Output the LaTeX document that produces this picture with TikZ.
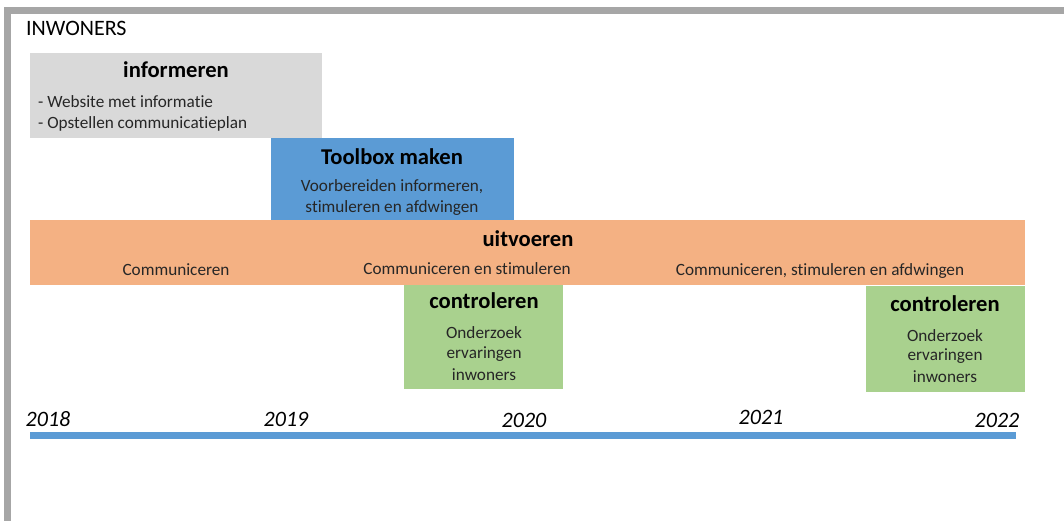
\documentclass[tikz,border=0pt]{standalone}
\usepackage{fontspec}
\setmainfont{Carlito}[Ligatures=NoCommon]
\definecolor{framegray}{HTML}{A6A6A6}
\definecolor{infogray}{HTML}{D9D9D9}
\definecolor{toolblue}{HTML}{5B9BD5}
\definecolor{uitorange}{HTML}{F4B183}
\definecolor{ctrlgreen}{HTML}{A9D18E}
\definecolor{linegray}{HTML}{262626}
\tikzset{
  body/.style={font=\fontsize{17.2}{20}\selectfont, text=linegray, inner sep=0pt},
  head/.style={font=\fontsize{22.6}{26}\selectfont\bfseries, text=black, inner sep=0pt},
  yearlbl/.style={font=\fontsize{22}{26}\selectfont\itshape, text=black, inner sep=0pt},
}
\begin{document}
\begin{tikzpicture}[x=1pt,y=-1pt]
\useasboundingbox (0,0) rectangle (1064,521);
\fill[white] (0,0) rectangle (1064,521);
% frame
\fill[framegray] (4,7) rectangle (1064,14);
\fill[framegray] (4,7) rectangle (11,521);
\node[font=\fontsize{22}{26}\selectfont, text=black, inner sep=0pt, anchor=west] (title) at (26,28) {INWONERS};
% informeren
\fill[infogray] (30,53) rectangle (322,138);
\node[head] (infohead) at (176,70) {informeren};
\node[body, anchor=west] (info1) at (38,102) {- Website met informatie};
\node[body, anchor=west] (info2) at (38,124) {- Opstellen communicatieplan};
% toolbox
\fill[toolblue] (271,138) rectangle (514,221);
\node[head] (toolhead) at (392,157) {Toolbox maken};
\node[body] (tool1) at (392,187) {Voorbereiden informeren,};
\node[body] (tool2) at (392,208) {stimuleren en afdwingen};
% uitvoeren
\fill[uitorange] (30,220) rectangle (1025,285);
\node[head] (uithead) at (528,239) {uitvoeren};
\node[body] (uit1) at (176,270) {Communiceren};
\node[body] (uit2) at (467,269) {Communiceren en stimuleren};
\node[body] (uit3) at (820,271) {Communiceren, stimuleren en afdwingen};
% controleren 1
\fill[ctrlgreen] (404,285) rectangle (563,389);
\node[head] (c1head) at (484,301) {controleren};
\node[body] (c1a) at (484,333) {Onderzoek};
\node[body] (c1b) at (484,354) {ervaringen};
\node[body] (c1c) at (484,375) {inwoners};
% controleren 2
\fill[ctrlgreen] (866,286) rectangle (1025,392);
\node[head] (c2head) at (945,304) {controleren};
\node[body] (c2a) at (945,336) {Onderzoek};
\node[body] (c2b) at (945,356) {ervaringen};
\node[body] (c2c) at (945,377) {inwoners};
% timeline
\fill[toolblue] (30,432) rectangle (1016,439);
\node[yearlbl] (y2018) at (48,419) {2018};
\node[yearlbl] (y2019) at (286,419) {2019};
\node[yearlbl] (y2020) at (524,420) {2020};
\node[yearlbl] (y2021) at (761,417) {2021};
\node[yearlbl] (y2022) at (997,420) {2022};
\end{tikzpicture}
\end{document}
